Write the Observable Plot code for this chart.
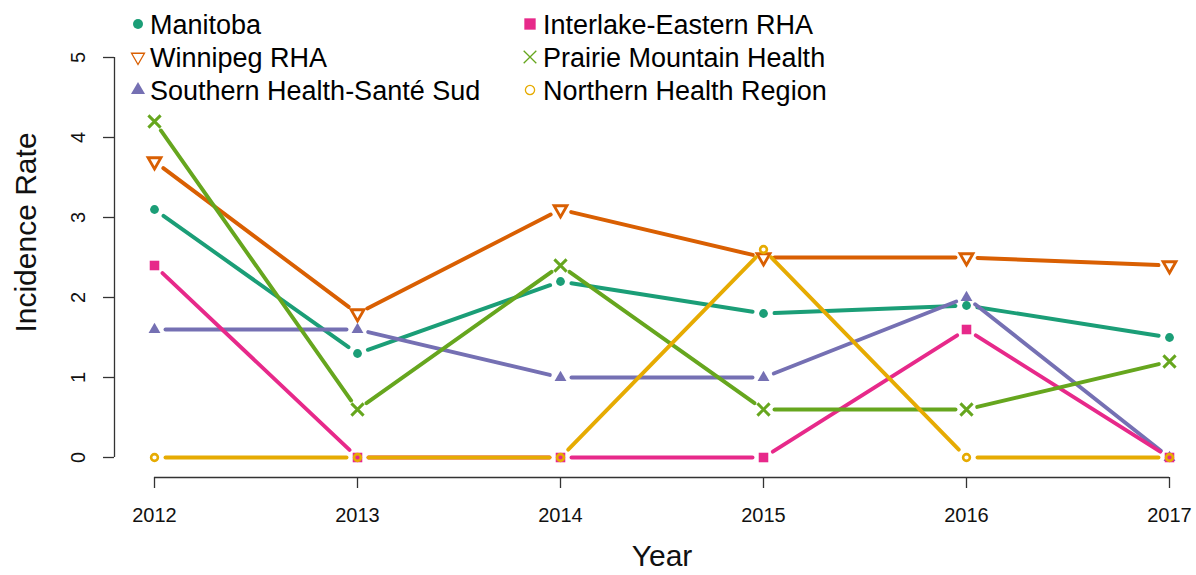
<!DOCTYPE html>
<html><head><meta charset="utf-8">
<script src="https://cdn.jsdelivr.net/npm/d3@7"></script>
<script src="https://cdn.jsdelivr.net/npm/@observablehq/plot@0.6"></script>
<style>body{margin:0;background:#fff;} #chart{position:relative;width:1196px;height:575px;}</style>
</head><body><div id="chart"></div>
<script>
// ---- data ----
const years = [2012, 2013, 2014, 2015, 2016, 2017];
const regions = ["Manitoba", "Winnipeg RHA", "Southern Health-Santé Sud", "Interlake-Eastern RHA", "Prairie Mountain Health", "Northern Health Region"];
const manitoba  = [3.1, 1.3, 2.2, 1.8, 1.9, 1.5];
const winnipeg  = [3.7, 1.8, 3.1, 2.5, 2.5, 2.4];
const southern  = [1.6, 1.6, 1.0, 1.0, 2.0, 0.0];
const interlake = [2.4, 0.0, 0.0, 0.0, 1.6, 0.0];
const prairie   = [4.2, 0.6, 2.4, 0.6, 0.6, 1.2];
const northern  = [0.0, 0.0, 0.0, 2.6, 0.0, 0.0];
const colors = ["#1B9E77", "#D95F02", "#7570B3", "#E7298A", "#66A61E", "#E6AB02"];
const yTicks = [0, 1, 2, 3, 4, 5];
const xLabel = "Year";
const yLabel = "Incidence Rate";

const seriesValues = [manitoba, winnipeg, southern, interlake, prairie, northern];

// layout
const W = 1196, H = 575, mL = 154, mR = 27, mT = 57, mB = 118;
const xDomain = [years[0], years[years.length - 1]];
const yDomain = [yTicks[0], yTicks[yTicks.length - 1]];
// helper scales (same as Plot's) used only to leave a gap around points, like R type="b"
const xs = d3.scaleLinear(xDomain, [mL, W - mR]);
const ys = d3.scaleLinear(yDomain, [H - mB, mT]);
const GAP = 11;
function gapSegment(x1, y1, x2, y2) {
  const a = [xs(x1), ys(y1)], b = [xs(x2), ys(y2)];
  const dx = b[0] - a[0], dy = b[1] - a[1], len = Math.hypot(dx, dy);
  if (len <= 2 * GAP) return null;
  const ux = dx / len, uy = dy / len;
  return {
    x1: xs.invert(a[0] + ux * GAP), y1: ys.invert(a[1] + uy * GAP),
    x2: xs.invert(b[0] - ux * GAP), y2: ys.invert(b[1] - uy * GAP)
  };
}

// custom downward triangle symbol
const triangleDown = {
  draw(context, size) {
    const y = -Math.sqrt(size / (Math.sqrt(3) * 3));
    context.moveTo(0, -y * 2);
    context.lineTo(-Math.sqrt(3) * y, y);
    context.lineTo(Math.sqrt(3) * y, y);
    context.closePath();
  }
};
const markerStyles = [
  {symbol: "circle", filled: true, r: 4.4, sw: 0, lr: 5, lsw: 0},
  {symbol: triangleDown, filled: false, r: 4.8, sw: 2.8, lr: 4.8, lsw: 1.3},
  {symbol: "triangle", filled: true, r: 4.4, sw: 0, lr: 5.2, lsw: 0},
  {symbol: "square", filled: true, r: 5.4, sw: 0, lr: 6.4, lsw: 0},
  {symbol: "times", filled: false, r: 5.6, sw: 3.0, lr: 5.8, lsw: 1.3},
  {symbol: "circle", filled: false, r: 3.4, sw: 2.6, lr: 4.6, lsw: 1.3}
];

const marks = [];
regions.forEach((name, i) => {
  const vals = seriesValues[i];
  const pts = years.map((yr, j) => ({region: name, year: yr, value: vals[j]}));
  const segs = years.slice(0, -1)
    .map((yr, j) => gapSegment(yr, vals[j], years[j + 1], vals[j + 1]))
    .filter(Boolean);
  const st = markerStyles[i];
  marks.push(Plot.link(segs, {x1: "x1", y1: "y1", x2: "x2", y2: "y2", stroke: colors[i], strokeWidth: 3.9, strokeLinecap: "round"}));
  marks.push(Plot.dot(pts, {
    x: "year", y: "value", symbol: st.symbol, r: st.r,
    fill: st.filled ? colors[i] : "none",
    stroke: st.filled ? "none" : colors[i],
    strokeWidth: st.sw || 1
  }));
});

const plot = Plot.plot({
  width: W,
  height: H,
  marginLeft: mL,
  marginRight: mR,
  marginTop: mT,
  marginBottom: mB,
  x: {domain: xDomain},
  y: {domain: yDomain},
  style: {fontFamily: "'Liberation Sans', Arial, sans-serif", background: "white", color: "#000"},
  marks: [
    // axis lines
    Plot.ruleX([years[0]], {y1: () => yDomain[0], y2: () => yDomain[1], dx: -40, stroke: "#333", strokeWidth: 1.3}),
    Plot.ruleY([yTicks[0]], {x1: () => xDomain[0], x2: () => xDomain[1], dy: 20, stroke: "#333", strokeWidth: 1.3}),
    Plot.axisY({ticks: yTicks, tickSize: 11, tickFormat: () => "", dx: -40, label: null, stroke: "#333", strokeWidth: 1.3}),
    Plot.text(yTicks, {y: d => d, frameAnchor: "left", textAnchor: "middle", dx: -76, rotate: -90, text: d => String(d), fontSize: 20, fill: "#111"}),
    Plot.axisX({ticks: years, tickSize: 11, tickPadding: 19, dy: 20, tickFormat: d => String(d), label: null, fontSize: 20, stroke: "#333", strokeWidth: 1.3, fill: "#111"}),
    Plot.text([xLabel], {frameAnchor: "bottom", dy: 108, text: d => d, fontSize: 30, fill: "#111"}),
    Plot.text([yLabel], {frameAnchor: "left", textAnchor: "middle", dx: -128, dy: -25, rotate: -90, text: d => d, fontSize: 30, fill: "#111"}),
    ...marks
  ]
});

// legend (two columns, three rows, filled column-wise)
const svg = d3.select(plot);
const lg = svg.append("g").attr("font-family", "'Liberation Sans', Arial, sans-serif").attr("font-size", 27).attr("text-anchor", "start");
const colX = [138, 530];
const textX = [150, 543];
const rowY = [24, 57, 90];
regions.forEach((name, i) => {
  const c = Math.floor(i / 3), r = i % 3;
  const st = markerStyles[i];
  const symType = typeof st.symbol === "string" ? ({circle: d3.symbolCircle, triangle: d3.symbolTriangle, square: d3.symbolSquare, times: d3.symbolTimes})[st.symbol] : st.symbol;
  lg.append("path")
    .attr("transform", `translate(${colX[c]},${rowY[r]})`)
    .attr("d", d3.symbol(symType, st.lr * st.lr * Math.PI)())
    .attr("fill", st.filled ? colors[i] : "none")
    .attr("stroke", st.filled ? "none" : colors[i])
    .attr("stroke-width", st.lsw || 0);
  lg.append("text")
    .attr("x", textX[c]).attr("y", rowY[r] + 9.5)
    .attr("text-anchor", "start")
    .attr("fill", "#000")
    .text(name);
});

document.getElementById("chart").appendChild(plot);
</script>
</body></html>
